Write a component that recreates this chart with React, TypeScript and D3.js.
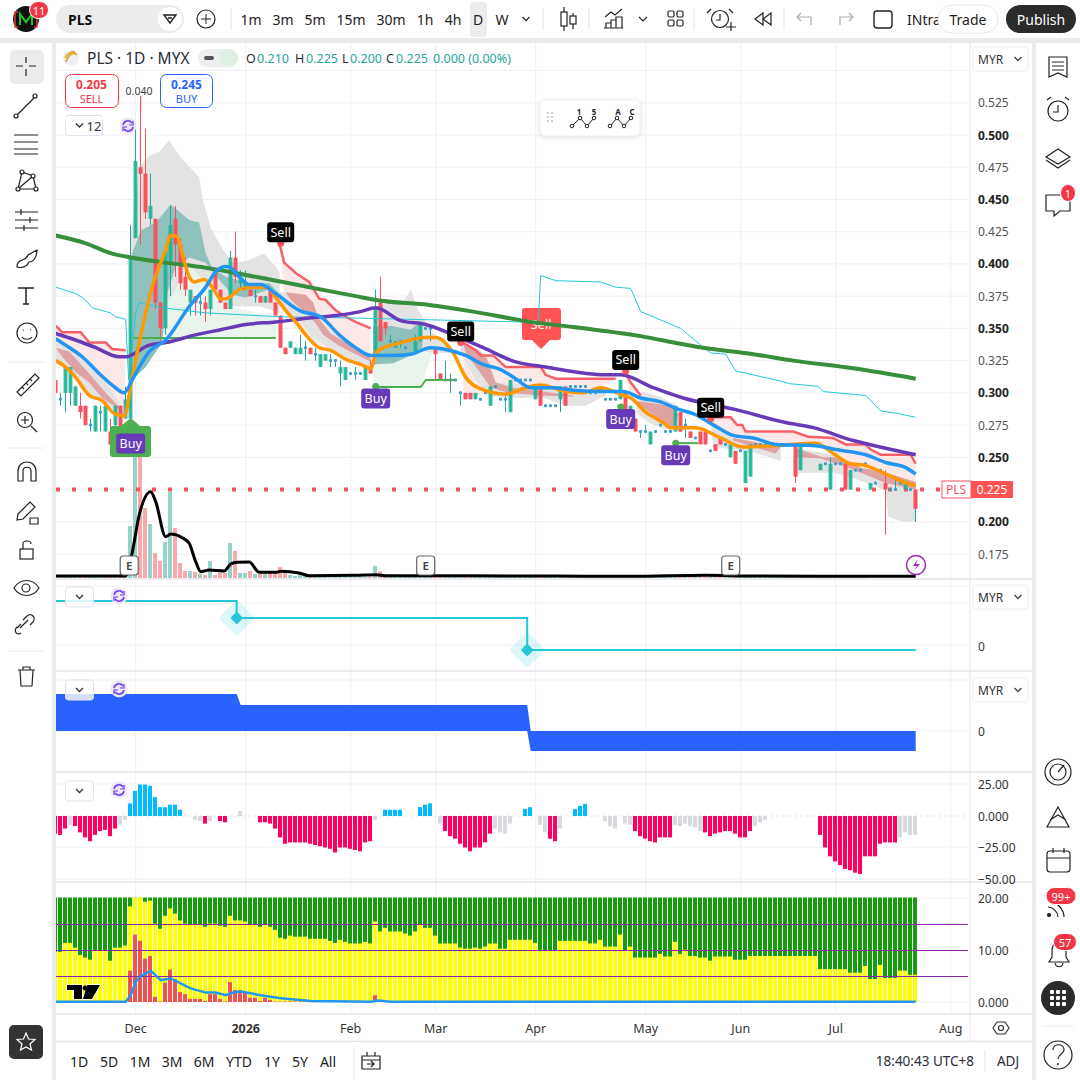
import * as d3 from "d3";

type Knot = [number, number];

// candles, one per trading day
const candleOpen = [
  0.31, 0.295, 0.3, 0.3, 0.29, 0.29, 0.29, 0.275, 0.27, 0.285,
  0.27, 0.27, 0.275, 0.29, 0.28, 0.28, 0.42, 0.475, 0.47, 0.435,
  0.435, 0.37, 0.35, 0.4, 0.435, 0.415, 0.39, 0.37, 0.375, 0.37,
  0.37, 0.365, 0.395, 0.38, 0.37, 0.365, 0.405, 0.385, 0.38, 0.38,
  0.375, 0.375, 0.37, 0.38, 0.37, 0.36, 0.335, 0.335, 0.33, 0.33,
  0.335, 0.335, 0.33, 0.32, 0.325, 0.325, 0.325, 0.315, 0.31, 0.315,
  0.315, 0.315, 0.31, 0.32, 0.33, 0.37, 0.355, 0.34, 0.335, 0.34,
  0.335, 0.33, 0.33, 0.34, 0.35, 0.35, 0.335, 0.315, 0.31, 0.31,
  0.31, 0.3, 0.3, 0.3, 0.295, 0.295, 0.3, 0.29, 0.305, 0.295,
  0.295, 0.285, 0.31, 0.31, 0.31, 0.31, 0.295, 0.305, 0.29, 0.29,
  0.29, 0.295, 0.305, 0.305, 0.305, 0.305, 0.305, 0.3, 0.3, 0.3,
  0.295, 0.295, 0.295, 0.295, 0.3, 0.285, 0.28, 0.27, 0.27, 0.26,
  0.27, 0.275, 0.27, 0.27, 0.27, 0.285, 0.275, 0.27, 0.265, 0.27,
  0.27, 0.255, 0.26, 0.265, 0.26, 0.25, 0.255, 0.255, 0.23, 0.235,
  0.26, 0.26, 0.26, 0.26, 0.26, 0.26, 0.26, 0.26, 0.26, 0.24,
  0.26, 0.26, 0.26, 0.24, 0.245, 0.225, 0.245, 0.245, 0.245, 0.225,
  0.24, 0.24, 0.245, 0.225, 0.23, 0.24, 0.23, 0.225, 0.225, 0.23,
  0.225, 0.225, 0.225,
];
const candleHigh = [
  0.31, 0.3, 0.32, 0.32, 0.305, 0.3, 0.29, 0.28, 0.29, 0.29,
  0.29, 0.28, 0.29, 0.29, 0.305, 0.43, 0.505, 0.53, 0.505, 0.47,
  0.435, 0.37, 0.41, 0.445, 0.445, 0.42, 0.405, 0.38, 0.375, 0.375,
  0.375, 0.38, 0.395, 0.38, 0.37, 0.41, 0.425, 0.395, 0.395, 0.38,
  0.38, 0.375, 0.375, 0.38, 0.37, 0.36, 0.335, 0.34, 0.335, 0.345,
  0.34, 0.335, 0.335, 0.33, 0.33, 0.33, 0.325, 0.325, 0.32, 0.315,
  0.32, 0.315, 0.32, 0.325, 0.38, 0.39, 0.355, 0.345, 0.34, 0.34,
  0.335, 0.33, 0.345, 0.355, 0.35, 0.35, 0.335, 0.315, 0.325, 0.315,
  0.31, 0.3, 0.3, 0.3, 0.3, 0.295, 0.3, 0.305, 0.305, 0.295,
  0.3, 0.31, 0.31, 0.31, 0.31, 0.31, 0.305, 0.305, 0.29, 0.29,
  0.29, 0.305, 0.305, 0.305, 0.305, 0.305, 0.305, 0.3, 0.3, 0.305,
  0.295, 0.295, 0.295, 0.31, 0.3, 0.29, 0.28, 0.27, 0.275, 0.27,
  0.27, 0.275, 0.27, 0.27, 0.29, 0.285, 0.28, 0.27, 0.265, 0.27,
  0.27, 0.255, 0.26, 0.265, 0.26, 0.26, 0.255, 0.255, 0.255, 0.26,
  0.26, 0.26, 0.26, 0.26, 0.26, 0.26, 0.26, 0.26, 0.26, 0.26,
  0.26, 0.26, 0.26, 0.245, 0.245, 0.25, 0.245, 0.245, 0.245, 0.24,
  0.24, 0.24, 0.245, 0.23, 0.23, 0.24, 0.24, 0.225, 0.235, 0.23,
  0.23, 0.225, 0.225,
];
const candleLow = [
  0.3, 0.29, 0.285, 0.29, 0.29, 0.28, 0.275, 0.27, 0.27, 0.27,
  0.27, 0.26, 0.265, 0.265, 0.28, 0.28, 0.42, 0.415, 0.435, 0.43,
  0.365, 0.34, 0.345, 0.375, 0.39, 0.38, 0.375, 0.36, 0.36, 0.36,
  0.355, 0.36, 0.38, 0.37, 0.365, 0.365, 0.385, 0.38, 0.38, 0.375,
  0.37, 0.37, 0.37, 0.37, 0.36, 0.335, 0.33, 0.335, 0.33, 0.33,
  0.325, 0.33, 0.325, 0.32, 0.325, 0.32, 0.32, 0.305, 0.31, 0.315,
  0.31, 0.315, 0.31, 0.315, 0.33, 0.34, 0.345, 0.34, 0.335, 0.335,
  0.335, 0.33, 0.33, 0.34, 0.35, 0.34, 0.31, 0.31, 0.31, 0.3,
  0.31, 0.29, 0.295, 0.295, 0.295, 0.295, 0.3, 0.29, 0.305, 0.295,
  0.285, 0.285, 0.31, 0.31, 0.31, 0.31, 0.295, 0.29, 0.29, 0.29,
  0.29, 0.285, 0.29, 0.305, 0.305, 0.305, 0.305, 0.3, 0.3, 0.3,
  0.295, 0.295, 0.295, 0.295, 0.285, 0.28, 0.27, 0.265, 0.27, 0.26,
  0.27, 0.275, 0.27, 0.27, 0.27, 0.27, 0.265, 0.265, 0.265, 0.26,
  0.26, 0.255, 0.255, 0.26, 0.26, 0.25, 0.245, 0.255, 0.23, 0.235,
  0.26, 0.26, 0.26, 0.26, 0.26, 0.26, 0.26, 0.26, 0.23, 0.24,
  0.26, 0.26, 0.26, 0.24, 0.245, 0.225, 0.245, 0.245, 0.225, 0.225,
  0.24, 0.24, 0.245, 0.225, 0.23, 0.24, 0.19, 0.225, 0.225, 0.23,
  0.225, 0.225, 0.2,
];
const candleClose = [
  0.3, 0.295, 0.32, 0.32, 0.305, 0.285, 0.275, 0.275, 0.29, 0.285,
  0.29, 0.26, 0.29, 0.27, 0.295, 0.405, 0.48, 0.47, 0.44, 0.445,
  0.37, 0.35, 0.41, 0.43, 0.415, 0.385, 0.38, 0.38, 0.37, 0.37,
  0.365, 0.38, 0.38, 0.37, 0.365, 0.405, 0.39, 0.39, 0.385, 0.375,
  0.375, 0.37, 0.375, 0.37, 0.36, 0.335, 0.33, 0.34, 0.335, 0.335,
  0.335, 0.33, 0.33, 0.33, 0.33, 0.325, 0.325, 0.32, 0.32, 0.315,
  0.315, 0.315, 0.32, 0.315, 0.365, 0.34, 0.35, 0.34, 0.34, 0.34,
  0.335, 0.33, 0.34, 0.355, 0.35, 0.35, 0.33, 0.31, 0.31, 0.31,
  0.31, 0.3, 0.295, 0.295, 0.3, 0.295, 0.3, 0.305, 0.305, 0.295,
  0.295, 0.31, 0.31, 0.31, 0.31, 0.31, 0.305, 0.29, 0.29, 0.29,
  0.29, 0.305, 0.29, 0.305, 0.305, 0.305, 0.305, 0.3, 0.3, 0.305,
  0.295, 0.295, 0.295, 0.31, 0.285, 0.29, 0.27, 0.27, 0.27, 0.27,
  0.27, 0.275, 0.27, 0.27, 0.29, 0.27, 0.275, 0.265, 0.265, 0.26,
  0.26, 0.255, 0.255, 0.26, 0.26, 0.26, 0.245, 0.255, 0.255, 0.26,
  0.26, 0.26, 0.26, 0.26, 0.26, 0.26, 0.26, 0.26, 0.235, 0.26,
  0.26, 0.26, 0.26, 0.245, 0.245, 0.245, 0.245, 0.245, 0.225, 0.24,
  0.24, 0.24, 0.245, 0.23, 0.23, 0.24, 0.225, 0.225, 0.225, 0.23,
  0.23, 0.225, 0.21,
];
const volumes = [
  3, 3, 3, 3, 6, 3, 3, 3, 3, 3, 3, 3, 3, 3, 3,
  156, 400, 402, 210, 162, 75, 51, 108, 258, 150,
  45, 21, 21, 18, 12, 9, 51, 9, 15, 15,
  105, 81, 15, 15, 21, 12, 12, 12, 15, 18,
  33, 18, 9, 6, 12, 6, 3, 3, 3, 3,
  3, 3, 3, 3, 3, 3, 3, 3, 3,
  36, 20, 10, 8, 10, 8, 6, 5, 4, 4,
  3, 3, 3, 3, 3, 4, 3, 3, 3, 3,
  3, 3, 3, 3, 3, 3, 3, 4, 3, 3,
  3, 3, 3, 3, 3, 3, 3, 3, 3, 3,
  3, 3, 3, 3, 4, 3, 3, 3, 3, 3,
  3, 3, 3, 3, 3, 3, 3, 3, 3, 4,
  4, 3, 3, 3, 3, 3, 4, 3, 3, 3,
  3, 3, 3, 3, 3, 3, 3, 3, 3, 3,
  3, 3, 3, 3, 3, 3, 3, 3, 3, 3,
  3, 3, 3, 3, 3, 3, 3, 3, 3,
];
const volumeAverage: Knot[] = [
  [0, 6], [14, 6], [15.2, 69], [16.7, 189], [19, 259], [20, 229], [22, 124], [23, 132], [25.3, 121],
  [26.7, 104], [28, 49], [29, 19], [30.7, 24], [33.7, 21], [35, 42], [36.3, 47], [38.7, 48], [40.7, 17],
  [44, 17], [45, 20], [48.7, 15], [50.7, 7], [60, 8], [64, 10], [66, 7], [100, 6], [115, 5], [130, 8],
  [140, 6], [172, 5],
];

// price overlays, [bar, price]
const orangeLine: Knot[] = [
  [0, 0.325], [2, 0.32], [4, 0.312], [6.7, 0.298], [9.3, 0.294], [11.7, 0.284], [13.7, 0.282], [15.2, 0.31],
  [16.7, 0.339], [19.3, 0.382], [22, 0.411], [23, 0.422], [24.3, 0.421], [25.3, 0.408], [26.7, 0.39],
  [27.7, 0.386], [29.7, 0.388], [31.3, 0.382], [33, 0.373], [34, 0.373], [36.7, 0.38], [39.3, 0.382],
  [42.3, 0.382], [44, 0.374], [46, 0.364], [48, 0.355], [50, 0.345], [52.7, 0.335], [55, 0.333], [58, 0.326],
  [61, 0.322], [63, 0.319], [64.2, 0.332], [69, 0.339], [74, 0.343], [76, 0.343], [79.5, 0.331], [82, 0.312],
  [85, 0.303], [90, 0.299], [94, 0.304], [97, 0.306], [102, 0.301], [105.5, 0.3], [109, 0.304], [113.5, 0.298],
  [115, 0.296], [118, 0.285], [121.5, 0.277], [123, 0.273], [128, 0.273], [133, 0.265], [137.5, 0.258],
  [143.5, 0.259], [152, 0.261], [155.5, 0.253], [159, 0.245], [161.5, 0.244], [165.5, 0.238], [169.5, 0.231],
  [172, 0.228],
];
const blueLine: Knot[] = [
  [0, 0.342], [2, 0.337], [5.3, 0.328], [8.7, 0.315], [11.3, 0.306], [13.7, 0.3], [15.3, 0.31], [16.7, 0.32],
  [18.7, 0.332], [22, 0.341], [26.7, 0.367], [30, 0.382], [32, 0.394], [34, 0.398], [35, 0.397], [36.7, 0.39],
  [38.7, 0.384], [41, 0.384], [44, 0.377], [48.7, 0.364], [53, 0.359], [56.7, 0.345], [60, 0.335], [63, 0.329],
  [67, 0.329], [71, 0.33], [75, 0.335], [77.5, 0.334], [82, 0.329], [85.5, 0.322], [89, 0.318], [92, 0.311],
  [95, 0.304], [99.5, 0.304], [103.5, 0.302], [109.5, 0.301], [113.5, 0.301], [117, 0.296], [121, 0.293],
  [124, 0.288], [128, 0.283], [132, 0.274], [135.5, 0.267], [139.5, 0.265], [144, 0.26], [152, 0.259],
  [156, 0.256], [162, 0.252], [166, 0.246], [170, 0.242], [172, 0.237],
];
const purpleLine: Knot[] = [
  [0, 0.346], [4, 0.341], [8, 0.335], [12.7, 0.328], [14.3, 0.328], [15, 0.329], [18.7, 0.337], [22, 0.339],
  [28, 0.345], [33, 0.349], [38, 0.353], [44, 0.355], [50.7, 0.358], [56, 0.36], [61, 0.363], [64, 0.366],
  [69, 0.356], [74, 0.353], [79.5, 0.345], [85.5, 0.335], [92, 0.324], [98, 0.32], [110, 0.314], [113, 0.314],
  [119.5, 0.304], [125.5, 0.296], [136, 0.287], [146, 0.277], [151.5, 0.273], [159.5, 0.263], [166, 0.257],
  [172, 0.252],
];
const greenLine: Knot[] = [
  [0, 0.422], [6, 0.416], [11.3, 0.408], [15, 0.405], [22, 0.401], [30, 0.397], [40, 0.39], [52, 0.381],
  [60, 0.375], [64, 0.372], [75, 0.368], [83.5, 0.363], [93.5, 0.356], [103.5, 0.351], [117, 0.344],
  [121, 0.341], [129.5, 0.335], [139.5, 0.33], [147.5, 0.325], [159.5, 0.319], [172, 0.311],
];
const cyanLine: Knot[] = [
  [0, 0.382], [4, 0.377], [5.7, 0.373], [7.3, 0.366], [11, 0.362], [12, 0.359], [14, 0.357], [14.6, 0.31],
  [16, 0.362], [16.7, 0.37], [21.3, 0.366], [30, 0.362], [45, 0.359], [60, 0.358], [93, 0.355], [96.5, 0.355],
  [97, 0.391], [100, 0.387], [109, 0.386], [112, 0.382], [115, 0.381], [117, 0.363], [125, 0.35], [129, 0.337],
  [131, 0.331], [134, 0.33], [136, 0.317], [144, 0.31], [147, 0.307], [152.5, 0.305], [153.5, 0.301], [162, 0.298],
  [165, 0.286], [168.5, 0.284], [172, 0.281],
];
const redLines: Knot[][] = [
  [[0, 0.352], [1.3, 0.347], [5, 0.347], [6.7, 0.339], [10, 0.339], [11.3, 0.334], [14, 0.333]],
  [[44.8, 0.415], [45.7, 0.401], [48, 0.393], [50.7, 0.386], [52.7, 0.373], [54, 0.372], [56, 0.364], [58, 0.359], [60, 0.355], [63, 0.35]],
  [[81.5, 0.339], [84, 0.333], [85, 0.329], [87.5, 0.329], [90, 0.32], [97, 0.32], [98, 0.314], [100, 0.311], [112, 0.311]],
  [[114, 0.315], [115, 0.308], [117, 0.298]],
  [[131, 0.281], [135, 0.281], [136.3, 0.275], [137.3, 0.275], [138, 0.27], [147.5, 0.27], [150.5, 0.266], [155.5, 0.265], [158, 0.26], [162, 0.26], [163, 0.256], [165, 0.252], [171, 0.252], [172, 0.245]],
];
const supportLines: Knot[][] = [
  [[15.5, 0.3425], [44, 0.3425]],
  [[64, 0.3045], [73, 0.3045], [74, 0.31], [80, 0.31]],
  [[124, 0.261], [128.5, 0.261]],
];

// shaded bands: each is one closed run of [bar, price]
const grayBands: Knot[][] = [
  [[0, 0.339], [2.7, 0.335], [6.7, 0.322], [10, 0.308], [13.3, 0.289], [13.3, 0.281], [10, 0.292], [6.7, 0.3], [3.3, 0.315], [0, 0.325]],
  [[15, 0.421], [16.7, 0.475], [18.7, 0.484], [20.7, 0.487], [22.7, 0.496], [24.7, 0.484], [28.7, 0.467], [29.3, 0.452], [31, 0.428], [33.3, 0.412], [35.3, 0.401], [38, 0.402], [41.7, 0.408], [44, 0.398], [44.8, 0.393], [44.8, 0.362], [41, 0.367], [35.3, 0.367], [33.3, 0.372], [26.7, 0.399], [22.7, 0.372], [16.7, 0.325], [15, 0.31]],
  [[43.5, 0.38], [49, 0.374], [51.5, 0.368], [53.5, 0.354], [57, 0.341], [62, 0.331], [65, 0.327], [63, 0.319], [58, 0.328], [55, 0.334], [51.5, 0.343], [49, 0.355], [45.5, 0.367]],
  [[63.5, 0.366], [67, 0.37], [69.5, 0.37], [71, 0.38], [72.5, 0.364], [75.5, 0.346], [79, 0.335], [80.3, 0.331], [75.5, 0.331], [70, 0.335], [63.5, 0.322]],
  [[81, 0.339], [85, 0.333], [88, 0.308], [97, 0.306], [102, 0.301], [110, 0.304], [110, 0.298], [106, 0.29], [102, 0.29], [97, 0.297], [93, 0.296], [87, 0.297], [84, 0.31], [81, 0.331]],
  [[117, 0.301], [121, 0.297], [124, 0.29], [123, 0.271], [121, 0.273], [118.5, 0.277], [116, 0.285]],
  [[131, 0.279], [135.5, 0.266], [144, 0.257], [145, 0.258], [145, 0.247], [142, 0.251], [139.5, 0.254], [131.5, 0.258]],
  [[148, 0.257], [155.5, 0.252], [161, 0.24], [166, 0.235], [172, 0.227], [172, 0.2], [169.5, 0.2], [166.5, 0.204], [166, 0.224], [159.5, 0.234], [155.5, 0.238], [149, 0.238], [148, 0.235]],
];
const darkBands: Knot[][] = [
  [[0, 0.335], [2.7, 0.332], [6.7, 0.315], [10, 0.3], [12.7, 0.289], [12.7, 0.287], [9.3, 0.296], [6.7, 0.308], [4, 0.316], [1.3, 0.328]],
  [[46, 0.378], [50, 0.376], [51.5, 0.37], [52.5, 0.358], [55, 0.346], [59, 0.337], [63, 0.327], [63, 0.324], [56.5, 0.337], [53.5, 0.345], [52, 0.354], [50, 0.362], [47, 0.372]],
  [[81.5, 0.339], [86, 0.329], [88, 0.308], [91.5, 0.304], [97.5, 0.301], [103.5, 0.298], [103.5, 0.297], [97, 0.298], [90.5, 0.3], [87, 0.304], [85, 0.315], [82, 0.331]],
  [[115.5, 0.294], [123, 0.29], [124.5, 0.283], [123.5, 0.273], [121, 0.279], [117, 0.29]],
  [[135.5, 0.265], [145, 0.258], [144, 0.253], [139.5, 0.258], [135.5, 0.263]],
  [[148, 0.257], [153.5, 0.25], [157, 0.25], [161, 0.242], [166, 0.238], [172, 0.231], [172, 0.225], [166, 0.23], [161, 0.238], [157, 0.244], [153, 0.249], [148, 0.25]],
];
const tealBands: Knot[][] = [
  [[15.3, 0.408], [17, 0.426], [20, 0.432], [23, 0.446], [26.7, 0.434], [28.7, 0.432], [30, 0.408], [31.3, 0.397], [34, 0.39], [38.7, 0.385], [42.7, 0.385], [44.7, 0.377], [43.3, 0.381], [38, 0.374], [35.3, 0.376], [33.3, 0.385], [30, 0.401], [26.7, 0.405], [24, 0.398], [22.3, 0.377], [21.3, 0.339], [18, 0.32], [15.3, 0.31]],
  [[63.5, 0.351], [67, 0.352], [71, 0.349], [73, 0.356], [73.3, 0.345], [73.3, 0.335], [71, 0.329], [67.5, 0.323], [63.5, 0.322]],
];
const paleGreenBands: Knot[][] = [
  [[16, 0.3425], [22, 0.377], [26.7, 0.405], [33, 0.385], [34.7, 0.367], [44, 0.359], [44, 0.3425]],
  [[63.5, 0.322], [71, 0.329], [75.5, 0.333], [73, 0.3045], [63.5, 0.3045]],
];
const pinkRanges: Knot[] = [[0, 15], [44.8, 63], [81.5, 112], [114, 124], [131, 172]];
const pinkTail: Knot = [124, 0.292];
const pinkExtra: Knot[] = [[81.5, 0.33], [85, 0.303], [87, 0.299], [81.5, 0.297]];

// lower panes
const stepLevels: Knot[] = [[0, 45], [36.2, 45], [36.2, 28], [94.3, 28], [94.3, -4], [172, -4]];
const stepDiamonds: Knot[] = [[36.2, 28], [94.3, -4]];
const fundBars = [0, 36.2, 37, 94.3, 95, 172];
const fundUpper = [37, 37, 26, 26, 0, 0];
const fundLower = [0, 0, 0, 0, -20, -20];
const histValues = [
  -14, -15, -10, -7, -8, -13, -17, -20, -15, -12,
  -11, -16, -10, -7, -3, 10, 20, 25, 25, 24,
  15, 7, 7, 9, 9, 5, 0, 0, -3, -4,
  -6, -4, 0, -4, -5, 0, 0, 4, 0, 0,
  0, -5, -5, -6, -10, -17, -22, -21, -21, -21,
  -21, -22, -23, -24, -25, -26, -29, -25, -25, -26,
  -27, -28, -21, -20, -3, 0, 5, 5, 5, 5,
  0, 0, 0, 7, 9, 10, 0, -6, -12, -16,
  -18, -22, -25, -28, -25, -25, -21, -14, -10, -13,
  -14, -6, 0, 0, 5.5, 7, 0, -7, -13, -18,
  -20, -10, 0, 0, 5.5, 8, 9.5, 0, 0, 0,
  -4, -8, -10, 0, -6, -7, -12, -16, -18, -20,
  -21, -17, -17, -17, -7, -8, -6, -8, -9, -12,
  -13, -16, -14, -13, -12, -12, -14, -17, -17, -12,
  -8, -5, -3, 0, 0, 0, 0, 0, 0, 0,
  0, 0, 0, -15, -25, -32, -36, -39, -42, -43,
  -45, -46, -32, -32, -32, -22, -21, -21, -21, -17,
  -13, -15, -15,
];
const histGrayBars = [3, 13, 14, 28, 29, 31, 37, 64, 77, 88, 89, 90, 91, 97, 98, 101, 110, 111, 112, 114, 115, 124, 125, 126, 127, 128, 129, 140, 141, 142, 169, 170, 171, 172];
const yellowValues = [
  9.6, 9.6, 11.3, 11.3, 10.4, 9, 8.5, 8.1, 9.8, 9.8,
  9.8, 7.9, 10.4, 10.4, 10.8, 18.3, 20, 20, 19.2, 19.4,
  15, 14, 16.5, 17.9, 16.9, 15.6, 15, 14.8, 14.8, 14.8,
  14.4, 15, 15, 14.6, 14.4, 16.5, 15.6, 15.6, 15.4, 14.8,
  14.8, 14.4, 14.8, 14.4, 13.8, 12.3, 12.1, 12.7, 12.5, 12.5,
  12.5, 12.1, 12.1, 12.1, 12.1, 11.7, 11.3, 11.9, 11.5, 11.2,
  11.2, 11.2, 11.5, 11.2, 15.4, 13.5, 14.2, 13.5, 13.5, 13.5,
  13.1, 12.7, 13.5, 14.8, 14.2, 14.2, 12.7, 11.2, 11.2, 11.2,
  11.2, 10.4, 10.2, 10.2, 10.4, 10.2, 10.6, 11.2, 11.2, 10.2,
  10.2, 11.9, 11.9, 11.9, 11.9, 11.9, 11.3, 9.8, 9.8, 9.8,
  9.8, 11.7, 11.7, 11.7, 11.7, 11.7, 11.7, 11.2, 11.2, 11.9,
  10.6, 10.6, 10.6, 12.9, 9.8, 10.6, 8.5, 8.5, 8.5, 8.5,
  8.5, 9.2, 8.7, 8.7, 11.5, 9.2, 10, 8.8, 8.8, 8.5,
  8.5, 7.9, 8.7, 8.7, 8.7, 8.7, 8.1, 8.1, 8.1, 8.8,
  8.8, 8.8, 8.8, 8.8, 8.8, 8.8, 8.8, 8.8, 8.8, 8.8,
  8.8, 8.8, 8.8, 6.3, 6.3, 6.3, 6.3, 6.3, 6.3, 5.6,
  5.6, 5.6, 6.9, 4.4, 4.4, 7.1, 4.6, 4.6, 4.6, 6,
  6, 5.2, 5.2,
];
const redValues = [
  0, 0, 0, 0, 0, 0, 0, 0, 0, 0, 0, 0, 0, 0, 0,
  6, 12.9, 11.7, 8.3, 8.8,
  1, 0.1, 3.7, 6.2, 4.4, 1.9, 1.5, 0.6, 0.6, 0.6,
  0.2, 1.5, 1.5, 0.6, 0.1, 3.8, 2.3, 2.3, 1.9, 0.8,
  0.8, 0.2, 0.8, 0.4, 0.1, 0.1, 0.1, 0.1, 0.1, 0.1,
  0.1, 0.1, 0.1, 0.1, 0.1, 0.1, 0.1, 0.1, 0.1, 0.1,
  0.1, 0.1, 0.1, 0.1, 1.3, 0.2,
];
const flowLine: Knot[] = [
  [0, 0.05], [14, 0.05], [15, 1.3], [16, 3.9], [17, 5], [19, 6], [21, 4.2], [23, 4.5], [27, 2.6], [30, 1.8], [32, 1.8],
  [34, 1.3], [35.5, 1.8], [37, 2], [41, 1.3], [45, 0.7], [51, 0.2], [63, 0.05], [64.5, 0.3], [67, 0.05], [172, 0.05],
];

const priceTicks = [0.525, 0.5, 0.475, 0.45, 0.425, 0.4, 0.375, 0.35, 0.325, 0.3, 0.275, 0.25, 0.2, 0.175];
const priceGrid = [0.55, 0.525, 0.5, 0.475, 0.45, 0.425, 0.4, 0.375, 0.35, 0.325, 0.3, 0.275, 0.25, 0.225, 0.2, 0.175, 0.15];
const monthBars = [16, 38, 59, 76, 96, 118, 137, 156, 179];
const monthLabels = ["Dec", "2026", "Feb", "Mar", "Apr", "May", "Jun", "Jul", "Aug"];
const earningsBars = [14.7, 74, 135];
const sellMarks: Knot[] = [[45, 0.416], [81, 0.339], [114, 0.317], [131, 0.28]];
const buyMarks: Knot[] = [[15, 0.27], [64, 0.305], [113, 0.289], [124, 0.261]];
const lastPrice = 0.225;
const lastBar = 172;

const FONT = "'Noto Sans', sans-serif";
const TEAL = "#26a69a";
const TEAL_BODY = "#12bd90";
const RED = "#f7525f";
const DOT = "#3a9fcb";
const GRID = "#f0f0f4";
const INK = "#1f2430";

const x = d3.scaleLinear().domain([0, 172]).range([55.7, 915.7]);
const yPrice = d3.scaleLinear().domain([0.175, 0.5]).range([554, 135]);
const yVolume = d3.scaleLinear().domain([0, 600]).range([578, 378]);
const yStep = d3.scaleLinear().domain([-4, 45]).range([650, 601]);
const yFund = d3.scaleLinear().domain([-20, 37]).range([751, 694]);
const yHist = d3.scaleLinear().domain([-50, 25]).range([879, 784.5]);
const yStack = d3.scaleLinear().domain([0, 20]).range([1002, 897.5]);

// bars sit on whole pixels so the 1px gaps stay white
const barLeft = (i: number) => Math.floor(x(i) - 2);

const linePath = (scaleY: d3.ScaleLinear<number, number>, curve: d3.CurveFactory = d3.curveLinear) =>
  d3
    .line<Knot>()
    .x((d) => x(d[0]))
    .y((d) => scaleY(d[1]))
    .curve(curve);

const priceLine = linePath(yPrice);
const smoothLine = linePath(yPrice, d3.curveMonotoneX);

const T = ({ x: tx, y, a = "start", s = 13, w = 400, c = INK, children }: any) => (
  <text x={tx} y={y} textAnchor={a} fontSize={s} fontWeight={w} fill={c} fontFamily={FONT} dominantBaseline="central">
    {children}
  </text>
);

const Chevron = ({ cx, cy, c = "#333" }: any) => (
  <path d={`M${cx - 3.5} ${cy - 2}L${cx} ${cy + 1.5}L${cx + 3.5} ${cy - 2}`} fill="none" stroke={c} strokeWidth={1.3} />
);

const Refresh = ({ cx, cy }: any) => (
  <g fill="none">
    <circle cx={cx} cy={cy} r={8.5} fill="#ece6f8" />
    <path d={`M${cx - 5} ${cy - 1}A5 5 0 0 1 ${cx + 4} ${cy - 3}M${cx + 5} ${cy + 1}A5 5 0 0 1 ${cx - 4} ${cy + 3}`} stroke="#6a3df0" strokeWidth={1.5} />
    <path d={`M${cx + 5} ${cy - 5}V${cy - 1}H${cx + 1}M${cx - 5} ${cy + 5}V${cy + 1}H${cx - 1}`} stroke="#6a3df0" strokeWidth={1.2} />
  </g>
);

const ChevronBox = ({ bx, by, wide, label }: any) => (
  <g>
    <rect x={bx} y={by} width={wide} height={20} rx={3} fill="#fff" fillOpacity={0.8} stroke="#e0e3eb" />
    <Chevron cx={bx + 14} cy={by + 10} />
    {label && <T x={bx + 21} y={by + 10} s={13} c="#333">{label}</T>}
  </g>
);

const MyrBox = ({ by }: any) => (
  <g>
    <rect x={973} y={by} width={55} height={24} rx={3} fill="#fff" stroke="#eceef2" />
    <T x={978} y={by + 12} s={12} c="#333">MYR</T>
    <Chevron cx={1018} cy={by + 12} c="#444" />
  </g>
);

const Badge = ({ cx, cy, w = 17, label }: any) => (
  <g>
    <rect x={cx - w / 2} y={cy - 8.5} width={w} height={17} rx={8.5} fill="#f23645" stroke="#fff" />
    <T x={cx} y={cy} a="middle" s={11} c="#fff">{label}</T>
  </g>
);

const TopBar = () => (
  <g>
    <rect x={0} y={0} width={1080} height={38} fill="#fff" />
    <circle cx={26} cy={19} r={13} fill="#111" />
    <path d="M20 25V14L26 22L32 14V25" fill="none" stroke="#22c322" strokeWidth={2} />
    <path d="M18 12H15V27H18M34 12H37V27H34" fill="none" stroke="#e53935" strokeWidth={1.5} />
    <Badge cx={39} cy={10} w={19} label="11" />
    <rect x={56} y={5} width={128} height={28} rx={14} fill="#ececec" />
    <T x={68} y={19} s={14} w={700} c="#111">PLS</T>
    <circle cx={170} cy={19} r={12} fill="#fff" />
    <path d="M164 15H176L170 23Z M168 18H172" fill="none" stroke="#222" strokeWidth={1.4} />
    <circle cx={206} cy={19} r={9} fill="none" stroke="#222" strokeWidth={1.2} />
    <path d="M201 19H211M206 14V24" stroke="#222" />
    <path d="M231 8V30M589 8V30M694 8V30M784 8V30" stroke="#e0e3eb" />
    <rect x={470} y={2} width={17} height={35} rx={4} fill="#ececec" />
    <T x={251} y={19} a="middle" s={14} c="#222">1m</T>
    <T x={283} y={19} a="middle" s={14} c="#222">3m</T>
    <T x={315} y={19} a="middle" s={14} c="#222">5m</T>
    <T x={351} y={19} a="middle" s={14} c="#222">15m</T>
    <T x={391} y={19} a="middle" s={14} c="#222">30m</T>
    <T x={425} y={19} a="middle" s={14} c="#222">1h</T>
    <T x={453} y={19} a="middle" s={14} c="#222">4h</T>
    <T x={478} y={19} a="middle" s={14} c="#222">D</T>
    <T x={502} y={19} a="middle" s={14} c="#222">W</T>
    <Chevron cx={526} cy={19} />
    <path d="M543 8V30" stroke="#e0e3eb" />
    <g fill="none" stroke="#222" strokeWidth={1.2}>
      <path d="M564 7V31M573 13V29" />
      <rect x={561} y={12} width={6} height={14} fill="#fff" />
      <rect x={570} y={16} width={6} height={8} fill="#fff" />
      <path d="M605 17L611 12L615 15L622 9M606 28V23H611V28M611 28V20H616V28M616 28V17H622V28M604 28H623" />
      <path d="M639 17L643 21L647 17" />
      <rect x={668} y={11} width={6} height={6} rx={1.5} />
      <rect x={677} y={11} width={6} height={6} rx={1.5} />
      <rect x={668} y={20} width={6} height={6} rx={1.5} />
      <rect x={677} y={20} width={6} height={6} rx={1.5} />
      <circle cx={720} cy={19} r={8.5} />
      <path d="M720 14V20H716M711 9L707 13M729 9L733 13M726 27H736M731 22V31" />
      <path d="M763 13L755 19L763 25ZM771 13L763 19L771 25Z" />
      <path stroke="#aaa" d="M801 13L797 17L801 21M797 17H811V25M849 13L853 17L849 21M853 17H840V25" />
      <rect x={874} y={11} width={18} height={17} rx={3} strokeWidth={1.4} />
    </g>
    <T x={907} y={19} s={14} c="#222">INtra</T>
    <rect x={938} y={5} width={60} height={28} rx={14} fill="#fff" stroke="#eaeaea" />
    <T x={968} y={19} a="middle" s={14} c="#222">Trade</T>
    <rect x={1006} y={5} width={70} height={28} rx={14} fill="#2b2b2b" />
    <T x={1041} y={19} a="middle" s={14} c="#fff">Publish</T>
  </g>
);

const LeftBar = () => (
  <g>
    <rect x={0} y={43} width={52} height={1037} fill="#fff" />
    <rect x={10} y={50} width={34} height={34} rx={5} fill="#ececec" />
    <g fill="none" stroke="#222" strokeWidth={1.2}>
      <path d="M26 57V63M26 69V76M16 66H23M29 66H36" />
      <path d="M17 115L35 97" />
      <circle cx={35} cy={96} r={2} fill="#fff" />
      <circle cx={16} cy={116} r={2} fill="#fff" />
      <path d="M14 135H38M14 142H38M14 149H38M14 154H38" />
      <path d="M18 189L22 172L33 176L36 189L18 189M18 189L33 176" />
      <circle cx={18} cy={189} r={2} fill="#fff" />
      <circle cx={22} cy={172} r={2} fill="#fff" />
      <circle cx={33} cy={176} r={2} fill="#fff" />
      <circle cx={36} cy={189} r={2} fill="#fff" />
      <path d="M15 212H38M15 220H38M15 228H38M21 209V215M30 217V223M24 225V231" />
      <path d="M17 267C17 258 26 262 28 255L37 250C37 256 34 262 29 262C26 268 21 268 17 267Z" />
      <path d="M18 288H34M26 288V304M23 304H29" strokeWidth={1.5} />
      <circle cx={27} cy={333} r={10} />
      <path d="M22 337C24 340 30 340 32 337M23 330H24M30 330H31" />
      <path d="M17 392L35 374L39 378L21 396ZM22 387L24 389M26 383L28 385M30 379L32 381" />
      <circle cx={25} cy={420} r={7.5} />
      <path d="M31 426L37 432M21 420H29M25 416V424" />
      <path d="M18 481V471C18 459 36 459 36 471V481H31V471C31 466 23 466 23 471V481Z" />
      <path d="M18 514L30 502L35 507L23 519L17 520ZM30 518H38V524H30Z" />
      <rect x={20} y={549} width={13} height={10} />
      <path d="M23 549V544C23 540 31 540 31 544" />
      <path d="M14 588C20 578 33 578 39 588C33 598 20 598 14 588Z" />
      <circle cx={26} cy={588} r={4} />
      <path d="M20 628L28 620M23 620L27 616C32 612 36 618 33 622L30 625M30 625M17 628L21 624M21 633C17 636 13 631 17 627" />
      <path d="M18 670H35M23 670V667H30V670M20 670L21 686H32L33 670" />
    </g>
    <path d="M8 362H44M8 448H44M8 651H44" stroke="#ececec" />
    <rect x={9} y={1025} width={34} height={34} rx={5} fill="#333" />
    <path d="M26 1033L28.5 1039L35 1039.5L30 1044L31.5 1050L26 1047L20.5 1050L22 1044L17 1039.5L23.5 1039Z" fill="none" stroke="#fff" strokeWidth={1.2} />
  </g>
);

const RightBar = () => (
  <g>
    <rect x={1036} y={43} width={44} height={1037} fill="#fff" />
    <g fill="none" stroke="#222" strokeWidth={1.2}>
      <path d="M1049 57H1067V77L1058 73L1049 77ZM1052 62H1064M1052 66H1064M1052 70H1064" />
      <circle cx={1058} cy={111} r={10} />
      <path d="M1058 105V112H1053M1047 100L1051 97M1069 100L1065 97" />
      <path d="M1058 149L1070 157L1058 164L1046 157ZM1046 160L1058 168L1070 160" />
      <path d="M1046 195H1070V211H1060L1054 216V211H1046Z" />
      <circle cx={1058} cy={772} r={13} />
      <circle cx={1058} cy={772} r={8} />
      <path d="M1058 772L1064 765" />
      <path d="M1047 827L1058 807L1069 827ZM1050 820L1058 815L1066 820" />
      <rect x={1047} y={851} width={23} height={21} rx={3} />
      <path d="M1047 858H1070M1053 848V853M1064 848V853" />
      <path d="M1048 901C1056 901 1064 909 1064 917M1048 907C1053 907 1058 912 1058 917" />
      <circle cx={1049} cy={915} r={1.5} fill="#222" />
      <path d="M1049 962H1069L1066 957V950C1066 940 1052 940 1052 950V957ZM1055 963C1056 968 1062 968 1063 963" />
      <circle cx={1058} cy={1055} r={14} />
      <path d="M1053 1050C1053 1043 1064 1043 1064 1050C1064 1054 1058 1054 1058 1059" />
    </g>
    <circle cx={1058} cy={1064} r={1} fill="#222" />
    <Badge cx={1068} cy={193} w={15} label="1" />
    <Badge cx={1061} cy={896} w={30} label="99+" />
    <Badge cx={1065} cy={942} w={23} label="57" />
    <path d="M1042 1026H1074" stroke="#ececec" />
    <circle cx={1058} cy={998} r={17} fill="#2b2b2b" />
    <g fill="#fff">
      {[0, 1, 2].flatMap((a) =>
        [0, 1, 2].map((b) => <rect key={`${a}-${b}`} x={1050 + a * 6} y={990 + b * 6} width={4} height={4} rx={1} />)
      )}
    </g>
  </g>
);

const Candles = () => (
  <g>
    {candleOpen.map((open, i) => {
      const close = candleClose[i];
      const high = candleHigh[i];
      const low = candleLow[i];
      const cx = Math.floor(x(i)) + 0.5;
      const down = close < open;
      const flat = close === open;
      const wick = i === lastBar ? TEAL : down ? RED : TEAL;
      const top = yPrice(Math.max(open, close));
      const bottom = yPrice(Math.min(open, close));
      return (
        <g key={i}>
          {high !== low && <line x1={cx} x2={cx} y1={yPrice(high)} y2={yPrice(low)} stroke={wick} strokeWidth={1} />}
          {flat ? (
            <rect x={cx - 1.5} y={top - 1.5} width={3} height={3} rx={1} fill={DOT} />
          ) : (
            <g>
              <rect x={cx - 2} y={top} width={4} height={bottom - top} fill={down ? RED : TEAL} fillOpacity={down ? 1 : 0.75} />
              <rect x={cx - 1} y={top + 0.5} width={2} height={Math.max(bottom - top - 1, 0)} fill={down ? RED : TEAL_BODY} />
            </g>
          )}
        </g>
      );
    })}
  </g>
);

const Main = () => {
  const between = (a: number, b: number) => orangeLine.filter((d) => d[0] >= a && d[0] <= b).reverse();
  const pinkTops = redLines.map((seg, n) => (n === 3 ? [...seg, pinkTail] : seg));
  return (
    <g>
      {/* shaded bands */}
      {pinkRanges.map((range, n) => (
        <path key={n} d={priceLine([...pinkTops[n], ...between(range[0], range[1])] as Knot[])!} fill="#fde8e8" />
      ))}
      <path d={priceLine(pinkExtra)!} fill="#fde8e8" />
      {paleGreenBands.map((d, n) => (
        <path key={n} d={priceLine(d)!} fill="#e9f4ec" />
      ))}
      {grayBands.map((d, n) => (
        <path key={n} d={priceLine(d)!} fill="#e3e3e3" />
      ))}
      {darkBands.map((d, n) => (
        <path key={n} d={priceLine(d)!} fill="#dfa3a3" />
      ))}
      {tealBands.map((d, n) => (
        <path key={n} d={priceLine(d)!} fill="#8fc1bc" />
      ))}

      {/* volume */}
      {volumes.map((v, i) => (
        <rect
          key={i}
          x={barLeft(i)}
          y={yVolume(v)}
          width={4}
          height={yVolume(0) - yVolume(v)}
          fill={candleClose[i] < candleOpen[i] ? "#f9a8ac" : "#95d2ca"}
        />
      ))}

      {/* last price */}
      <line
        x1={56}
        x2={968}
        y1={yPrice(lastPrice)}
        y2={yPrice(lastPrice)}
        stroke="#f7525f"
        strokeWidth={4}
        strokeDasharray="4 12"
      />

      {/* large sell flag sits under the lines */}
      <path d="M525 308H558A3 3 0 0 1 561 311V337A3 3 0 0 1 558 340H550L541 349L532 340H525A3 3 0 0 1 522 337V311A3 3 0 0 1 525 308Z" fill="#ff5252" />
      <T x={541} y={324} a="middle" c="#fff">Sell</T>

      <Candles />

      {supportLines.map((d, n) => (
        <path key={n} d={priceLine(d)!} fill="none" stroke="#4caf50" strokeWidth={2} />
      ))}
      {redLines.map((d, n) => (
        <path key={n} d={priceLine(d)!} fill="none" stroke="#fa5f68" strokeWidth={2.5} />
      ))}
      <path d={priceLine(cyanLine)!} fill="none" stroke="#26c6da" strokeWidth={1} />
      <path d={smoothLine(greenLine)!} fill="none" stroke="#388e3c" strokeWidth={4} />
      <path d={smoothLine(purpleLine)!} fill="none" stroke="#673ab7" strokeWidth={3.5} />
      <path d={smoothLine(orangeLine)!} fill="none" stroke="#ff9800" strokeWidth={3.5} />
      <path d={smoothLine(blueLine)!} fill="none" stroke="#2196f3" strokeWidth={3.5} />
      <path d={linePath(yVolume, d3.curveMonotoneX)(volumeAverage)!} fill="none" stroke="#000" strokeWidth={3} />

      {/* entry and exit labels */}
      <path d="M113 426H121L130.7 418L140 426H148A3 3 0 0 1 151 429V454A3 3 0 0 1 148 457H113A3 3 0 0 1 110 454V429A3 3 0 0 1 113 426Z" fill="#4caf50" />
      {sellMarks.map(([i, p]) => (
        <g key={i}>
          <circle cx={x(i)} cy={yPrice(p)} r={3.5} fill="#f7525f" />
          <rect x={x(i) - 13.5} y={yPrice(p) - 21} width={27} height={20} rx={3} fill="#000" />
          <T x={x(i)} y={yPrice(p) - 11} a="middle" c="#fff" s={12.5}>Sell</T>
        </g>
      ))}
      {buyMarks.map(([i, p]) => (
        <g key={i}>
          <circle cx={x(i)} cy={yPrice(p)} r={3.5} fill="#4caf50" />
          <rect x={x(i) - 14.5} y={yPrice(p) + 2} width={29} height={20} rx={3} fill="#673ab7" />
          <T x={x(i)} y={yPrice(p) + 12} a="middle" c="#fff" s={12.5}>Buy</T>
        </g>
      ))}

      {/* earnings flags */}
      {earningsBars.map((i) => (
        <g key={i}>
          <rect x={x(i) - 9} y={556} width={18} height={19} rx={3} fill="#fff" stroke="#666" strokeWidth={1.2} />
          <T x={x(i)} y={565.5} a="middle" s={11.5} w={600} c="#444">E</T>
        </g>
      ))}
      <circle cx={916} cy={565} r={9.5} fill="#fff" stroke="#9c27b0" strokeWidth={1.5} />
      <path d="M918 559L913 566H917L914 571L920 564H916Z" fill="#9c27b0" />
    </g>
  );
};

const StepPane = () => {
  const stepLine = d3
    .line<Knot>()
    .x((d) => x(d[0]))
    .y((d) => yStep(d[1]));
  return (
    <g>
      <path d={stepLine(stepLevels)!} fill="none" stroke="#26c6da" strokeWidth={2} />
      {stepDiamonds.map(([i, v]) => (
        <g key={i} transform={`translate(${x(i)},${yStep(v)}) rotate(45)`}>
          <rect x={-13} y={-13} width={26} height={26} rx={4} fill="#26c6da" fillOpacity={0.16} />
          <rect x={-4.5} y={-4.5} width={9} height={9} rx={1} fill="#26c6da" />
        </g>
      ))}
    </g>
  );
};

const FundPane = () => {
  const area = d3
    .area<number>()
    .x((b) => x(b))
    .y0((_, n) => yFund(fundLower[n]))
    .y1((_, n) => yFund(fundUpper[n]));
  return <path d={area(fundBars)!} fill="#2962ff" />;
};

const HistPane = () => (
  <g>
    <line x1={56} x2={968} y1={yHist(0)} y2={yHist(0)} stroke="#e4e4ea" strokeDasharray="3 3" />
    {histValues.map((v, i) => {
      if (v === 0) return null;
      const fill = histGrayBars.includes(i) ? "#d9dade" : v > 0 ? "#00bcff" : "#ff0062";
      return (
        <rect
          key={i}
          x={barLeft(i)}
          y={Math.min(yHist(v), yHist(0))}
          width={4}
          height={Math.abs(yHist(v) - yHist(0))}
          fill={fill}
        />
      );
    })}
  </g>
);

const StackPane = () => (
  <g>
    {yellowValues.map((v, i) => (
      <g key={i}>
        <rect x={barLeft(i)} y={yStack(20)} width={4} height={yStack(0) - yStack(20)} fill="#169c0c" />
        <rect x={barLeft(i)} y={yStack(v)} width={4} height={yStack(0) - yStack(v)} fill="#ffff00" />
        {(redValues[i] ?? 0) > 0 && (
          <rect x={barLeft(i)} y={yStack(redValues[i])} width={4} height={yStack(0) - yStack(redValues[i])} fill="#ef5350" />
        )}
      </g>
    ))}
    {[5, 10, 15].map((v) => (
      <line key={v} x1={56} x2={968} y1={Math.round(yStack(v)) + 0.5} y2={Math.round(yStack(v)) + 0.5} stroke="#8e24aa" strokeWidth={1} />
    ))}
    <path d={linePath(yStack)(flowLine)!} fill="none" stroke="#2196f3" strokeWidth={2.5} />
    <path d="M67 985H82V999H74V990H67ZM87 985H100L92 999H83Z" fill="#000" stroke="#fff" strokeWidth={1.5} paintOrder="stroke" />
    <circle cx={85} cy={988} r={2.5} fill="#000" />
  </g>
);

export default function App() {
  return (
    <svg width={1080} height={1080} style={{ position: "absolute", left: 0, top: 0, display: "block" }}>
      <rect width={1080} height={1080} fill="#fff" />

      {/* grid */}
      {priceGrid.map((p) => (
        <line key={p} x1={56} x2={968} y1={yPrice(p)} y2={yPrice(p)} stroke={GRID} />
      ))}
      {[603, 645, 680, 731, 784, 847, 879, 898, 1002].map((gy) => (
        <line key={gy} x1={56} x2={968} y1={gy} y2={gy} stroke={GRID} />
      ))}
      {monthBars.map((b) => (
        <line key={b} x1={x(b)} x2={x(b)} y1={43} y2={1013} stroke={GRID} />
      ))}

      <Main />
      <StepPane />
      <FundPane />
      <HistPane />
      <StackPane />

      {/* pane dividers */}
      {[579, 671, 772, 882, 1014].map((gy) => (
        <line key={gy} x1={56} x2={1032} y1={gy} y2={gy} stroke="#e4e5ec" strokeWidth={1.5} />
      ))}
      <line x1={970} x2={970} y1={43} y2={1041} stroke="#e4e5ec" />

      {/* price axis */}
      {priceTicks.map((p) => (
        <T
          key={p}
          x={978}
          y={yPrice(p)}
          s={12}
          w={[0.5, 0.45, 0.4, 0.35, 0.3, 0.25, 0.2].includes(p) ? 700 : 400}
          c={[0.5, 0.45, 0.4, 0.35, 0.3, 0.25, 0.2].includes(p) ? "#222" : "#555"}
        >
          {p.toFixed(3)}
        </T>
      ))}
      <rect x={942} y={481} width={29} height={17} fill="#fff" stroke="#f7525f" />
      <T x={956} y={489.5} a="middle" s={12} c="#f7525f">PLS</T>
      <rect x={971} y={481} width={42} height={17} fill="#ff5252" />
      <T x={992} y={489.5} a="middle" s={12} c="#fff">{lastPrice.toFixed(3)}</T>
      <MyrBox by={47} />
      <MyrBox by={585} />
      <MyrBox by={678} />
      <T x={978} y={646} s={12} c="#333">0</T>
      <T x={978} y={731} s={12} c="#333">0</T>
      <T x={978} y={784} s={12} c="#333">25.00</T>
      <T x={978} y={816} s={12} c="#333">0.000</T>
      <T x={978} y={847} s={12} c="#333">−25.00</T>
      <T x={978} y={879} s={12} c="#333">−50.00</T>
      <T x={978} y={898} s={12} c="#333">20.00</T>
      <T x={978} y={950} s={12} c="#333">10.00</T>
      <T x={978} y={1002} s={12} c="#333">0.000</T>

      {/* time axis */}
      {monthBars.map((b, n) => (
        <T key={b} x={x(b)} y={1028} a="middle" s={12.5} w={monthLabels[n] === "2026" ? 700 : 400} c="#333">
          {monthLabels[n]}
        </T>
      ))}
      <path d="M993 1028L997 1022H1005L1009 1028L1005 1034H997Z" fill="none" stroke="#333" strokeWidth={1.2} />
      <circle cx={1001} cy={1028} r={2.5} fill="none" stroke="#333" strokeWidth={1.2} />

      {/* bottom bar */}
      {[["1D", 79], ["5D", 109], ["1M", 140], ["3M", 172], ["6M", 204], ["YTD", 239], ["1Y", 272], ["5Y", 300], ["All", 328]].map(([t, tx]) => (
        <T key={t as string} x={tx} y={1061} a="middle" s={14} c="#222">{t}</T>
      ))}
      <path d="M354 1046V1080" stroke="#eee" />
      <g fill="none" stroke="#222" strokeWidth={1.2}>
        <path d="M362 1056H380V1069H362ZM362 1060H380M367 1052V1056M375 1052V1056M367 1064H374M371 1061L374 1064L371 1067" />
      </g>
      <T x={974} y={1061} a="end" s={13.5} c="#2a2e39">18:40:43 UTC+8</T>
      <path d="M985 1050V1071" stroke="#e5e5e5" />
      <T x={1008} y={1061} a="middle" s={13.5} c="#2a2e39">ADJ</T>

      <line x1={56} x2={1032} y1={1041.5} y2={1041.5} stroke="#e4e5ec" strokeWidth={1.5} />

      {/* strips between the toolbars and the chart */}
      <TopBar />
      <LeftBar />
      <RightBar />
      <rect x={0} y={38} width={1080} height={5} fill="#ebebeb" />
      <rect x={52} y={43} width={4} height={1037} fill="#ebebeb" />
      <rect x={1032} y={43} width={4} height={1037} fill="#ebebeb" />

      {/* legend */}
      <circle cx={71} cy={58} r={8} fill="#eef0f5" />
      <path d="M66 62C69 53 74 52 77 55M65 58C67 54 71 51 75 52" fill="none" stroke="#e0a020" strokeWidth={1.6} />
      <T x={87} y={58} s={15.5} c="#2a2e39">PLS · 1D · MYX</T>
      <rect x={198} y={49} width={40} height={18} rx={9} fill="#eceef0" />
      <rect x={219} y={49} width={19} height={18} rx={9} fill="#dff0e2" />
      <rect x={204} y={56} width={10} height={4} rx={2} fill="#555" />
      <path d="M232 53A5 5 0 1 0 232 63A4 4 0 1 1 232 53Z" fill="#2e8b4e" />
      {[["O", 246, 11], ["H", 295, 11], ["L", 342, 8], ["C", 386, 10]].map(([t, tx, gap], n) => (
        <g key={t as string}>
          <T x={tx} y={58} s={12.5} c="#2a2e39">{t}</T>
          <T x={(tx as number) + (gap as number)} y={58} s={12.5} c={TEAL}>{["0.210", "0.225", "0.200", "0.225"][n]}</T>
        </g>
      ))}
      <T x={433} y={58} s={12.5} c={TEAL}>0.000 (0.00%)</T>

      <rect x={65.5} y={74.5} width={53} height={33} rx={6} fill="#fff" stroke="#f23645" />
      <T x={91.5} y={84.5} a="middle" s={12} w={700} c="#f23645">0.205</T>
      <T x={91.5} y={98.5} a="middle" s={11} c="#f23645">SELL</T>
      <rect x={160.5} y={74.5} width={52} height={33} rx={6} fill="#fff" stroke="#2962ff" />
      <T x={186.5} y={84.5} a="middle" s={12} w={700} c="#2962ff">0.245</T>
      <T x={186.5} y={98.5} a="middle" s={11} c="#2962ff">BUY</T>
      <T x={139} y={91} a="middle" s={10.5} c="#444">0.040</T>
      <line x1={x(17)} x2={x(17)} y1={96} y2={112} stroke={RED} />

      <ChevronBox bx={65.5} by={115.5} wide={37} label="12" />
      <Refresh cx={128} cy={126} />
      <ChevronBox bx={65.5} by={587} wide={28} />
      <Refresh cx={119} cy={596} />
      <ChevronBox bx={65.5} by={680} wide={28} />
      <Refresh cx={119} cy={689} />
      <ChevronBox bx={65.5} by={781} wide={28} />
      <Refresh cx={119} cy={790} />

      {/* floating wave tool */}
      <rect x={540} y={100} width={100} height={36} rx={5} fill="#fff" stroke="#f1f1f1" style={{ filter: "drop-shadow(0 1px 2px rgba(0,0,0,0.12))" }} />
      <path d="M548 112V124M552 112V124" stroke="#cfcfcf" strokeWidth={2} strokeDasharray="2 2" />
      <g fill="none" stroke="#222" strokeWidth={1}>
        <path d="M572 126L580 118L587 126L594 118" />
        <path d="M610 126L617 118L624 126L631 118" />
        {[[572, 126], [580, 118], [587, 126], [594, 118], [610, 126], [617, 118], [624, 126], [631, 118]].map(([cx, cy]) => (
          <circle key={cx} cx={cx} cy={cy} r={1.8} fill="#fff" />
        ))}
      </g>
      <T x={579} y={111} a="middle" s={8} w={700}>1</T>
      <T x={594} y={111} a="middle" s={8} w={700}>5</T>
      <T x={618} y={111} a="middle" s={8} w={700}>A</T>
      <T x={632} y={111} a="middle" s={8} w={700}>C</T>
    </svg>
  );
}
